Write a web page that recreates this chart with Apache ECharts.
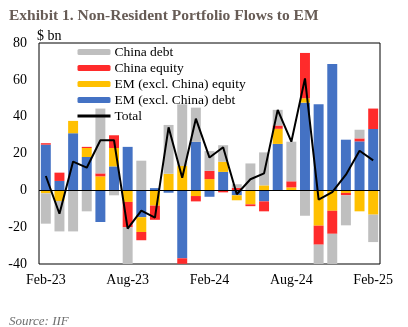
<!DOCTYPE html>
<html>
<head>
<meta charset="utf-8">
<script src="https://cdn.jsdelivr.net/npm/echarts@6/dist/echarts.min.js"></script>
<style>html,body{margin:0;padding:0;background:#fff}#c{width:408px;height:327px}</style>
</head>
<body>
<div id="c"></div>
<script>
const months = ['Feb-23','Mar-23','Apr-23','May-23','Jun-23','Jul-23','Aug-23','Sep-23','Oct-23','Nov-23','Dec-23','Jan-24','Feb-24','Mar-24','Apr-24','May-24','Jun-24','Jul-24','Aug-24','Sep-24','Oct-24','Nov-24','Dec-24','Jan-25','Feb-25'];
const emDebt     = [24.8, 5.1, 31.0, 18.1, -17.2, 13.0, 23.6, -14.6, 1.2, -1.3, -36.9, 26.3, -3.5, 10.0, -2.7, 0, -6.0, 25.2, 0, 47.6, 46.8, 68.6, 27.5, 26.6, 33.3];
const emEquity   = [-1.6, -5.8, 6.7, 4.9, 7.6, 10.0, -6.3, -8.0, -8.3, 9.0, 13.2, -3.1, 6.1, 5.5, -2.7, -7.6, 2.7, 8.2, 1.6, 2.4, -19.2, -11.1, -1.4, -11.4, -13.2];
const chinaEquity= [0.8, 4.5, 0, 0.6, 1.6, 6.9, -13.8, -4.5, -7.7, 0, -3.0, -2.9, 4.5, -1.1, 1.3, -1.0, -5.4, 1.8, 3.3, 24.6, -10.3, -12.5, -1.3, 1.6, 11.1];
const chinaDebt  = [-16.5, -16.5, -22.3, -11.4, 35.2, -2.7, -24.3, 16.1, 0, 26.5, 33.5, 18.6, 10.7, 9.0, 2.0, 14.6, 17.9, 8.5, 21.5, -13.8, -22.4, -46.0, -16.3, 4.7, -14.9];
const total      = [7.8, -12.7, 15.6, 12.3, 27.2, 27.2, -20.8, -11.0, -14.8, 34.2, 6.8, 38.9, 17.8, 23.4, -2.1, 6.0, 9.2, 43.7, 26.4, 60.8, -5.1, -1.0, 8.5, 21.5, 16.3];
const yTicks = [-40, -20, 0, 20, 40, 60, 80];

const FONT = 'Liberation Serif';
const chart = echarts.init(document.getElementById('c'), null, {renderer: 'canvas'});
const barCommon = {type: 'bar', stack: 'flows', barCategoryGap: '27%', clip: true};
chart.setOption({
  animation: false,
  textStyle: {fontFamily: FONT},
  title: [
    {text: 'Exhibit 1. Non-Resident Portfolio Flows to EM', left: 4, top: 3,
     textStyle: {fontFamily: FONT, fontWeight: 'bold', fontSize: 15.5, color: '#675c56'}},
    {text: 'Source: IIF', left: 4, top: 310,
     textStyle: {fontFamily: FONT, fontStyle: 'italic', fontWeight: 'normal', fontSize: 13, color: '#6f6f6f'}}
  ],
  graphic: [{type: 'text', left: 37, top: 29, style: {text: '$ bn', font: '14px "Liberation Serif"', fill: '#000'}}],
  grid: {left: 39, right: 28, top: 43, bottom: 63, show: true, borderColor: '#000', borderWidth: 1, backgroundColor: 'transparent'},
  legend: {
    orient: 'vertical', left: 76, top: 45, padding: 0, itemWidth: 33, itemHeight: 6, itemGap: 2,
    textStyle: {fontFamily: FONT, fontSize: 13.5, color: '#000', lineHeight: 12, padding: [0,0,0,-1]},
    lineStyle: {width: 3},
    data: ['China debt', 'China equity', 'EM (excl. China) equity', 'EM (excl. China) debt',
           {name: 'Total', itemStyle: {opacity: 0}}]
  },
  xAxis: {
    type: 'category', data: months, boundaryGap: true,
    axisLine: {show: false, onZero: false}, axisTick: {show: false},
    axisLabel: {interval: 5, margin: 9, fontFamily: FONT, fontSize: 14, color: '#000'},
    splitLine: {show: false}
  },
  yAxis: {
    type: 'value', min: yTicks[0], max: yTicks[yTicks.length-1], interval: 20,
    axisLine: {show: false}, axisTick: {show: false}, splitLine: {show: false},
    axisLabel: {margin: 12, fontFamily: FONT, fontSize: 14, color: '#000'}
  },
  series: [
    Object.assign({name: 'EM (excl. China) debt', data: emDebt, itemStyle: {color: '#4472C4'}}, barCommon),
    Object.assign({name: 'EM (excl. China) equity', data: emEquity, itemStyle: {color: '#FFC000'}}, barCommon),
    Object.assign({name: 'China equity', data: chinaEquity, itemStyle: {color: '#FF2B2B'}}, barCommon),
    Object.assign({name: 'China debt', data: chinaDebt, itemStyle: {color: '#BFBFBF'}}, barCommon),
    {name: 'Total', type: 'line', data: total, symbol: 'none', z: 5,
     lineStyle: {color: '#000', width: 2}, itemStyle: {color: '#000'},
     markLine: {silent: true, symbol: 'none', label: {show: false},
       lineStyle: {color: '#000', width: 1, type: 'solid'}, data: [{yAxis: 0}]}}
  ]
});
</script>
</body>
</html>
